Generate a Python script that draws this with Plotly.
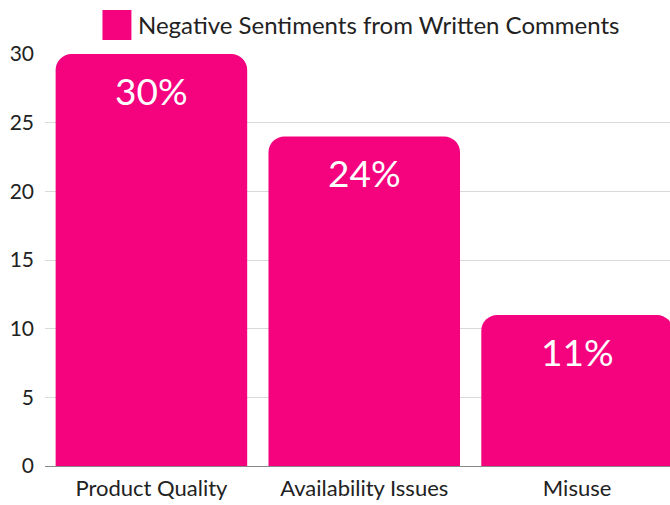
import plotly.graph_objects as go

categories = ["Product Quality", "Availability Issues", "Misuse"]
values = [30, 24, 11]
series_name = "Negative Sentiments from Written Comments"
y_ticks = [0, 5, 10, 15, 20, 25, 30]

PINK = "#F5027F"
FONT = "Lato, 'Noto Sans', sans-serif"

fig = go.Figure()
fig.add_trace(go.Bar(
    x=categories, y=values, name=series_name,
    marker=dict(color=PINK, cornerradius=16, line=dict(width=0)),
    showlegend=False,
))

# value labels near the top inside each bar
for c, v in zip(categories, values):
    fig.add_annotation(x=c, y=v, text=f"{v}%", showarrow=False,
                       yanchor="top", yshift=-12,
                       font=dict(family=FONT, size=37, color="white"))

# legend entry: swatch + label above the plot
fig.add_shape(type="rect", xref="paper", yref="paper",
              x0=(102 - 44.5) / 625.5, x1=(131 - 44.5) / 625.5,
              y0=1 + (54 - 40) / 412, y1=1 + (54 - 10) / 412,
              fillcolor=PINK, line=dict(width=0))
fig.add_annotation(xref="paper", yref="paper",
                   x=(136 - 44.5) / 625.5, y=1 + (54 - 24) / 412,
                   xanchor="left", yanchor="middle", showarrow=False,
                   text=series_name,
                   font=dict(family=FONT, size=24, color="#222"))

fig.update_layout(
    width=670, height=505,
    margin=dict(l=44.5, r=0, t=54, b=39),
    paper_bgcolor="white", plot_bgcolor="white",
    bargap=0.1,
    font=dict(family=FONT, color="#222"),
    xaxis=dict(range=[-0.5, (670 - 44.5) / 213 - 0.5], showline=True,
               linecolor="#888", linewidth=1, ticks="",
               ticklabelstandoff=3, automargin=False,
               tickfont=dict(size=22, color="#222")),
    yaxis=dict(range=[0, 30], tickvals=y_ticks, showgrid=True,
               gridcolor="#d9d9d9", gridwidth=1, zeroline=False,
               automargin=False,
               tickfont=dict(size=21, color="#222"), ticklabelstandoff=10),
)

fig.write_html("out.html")
